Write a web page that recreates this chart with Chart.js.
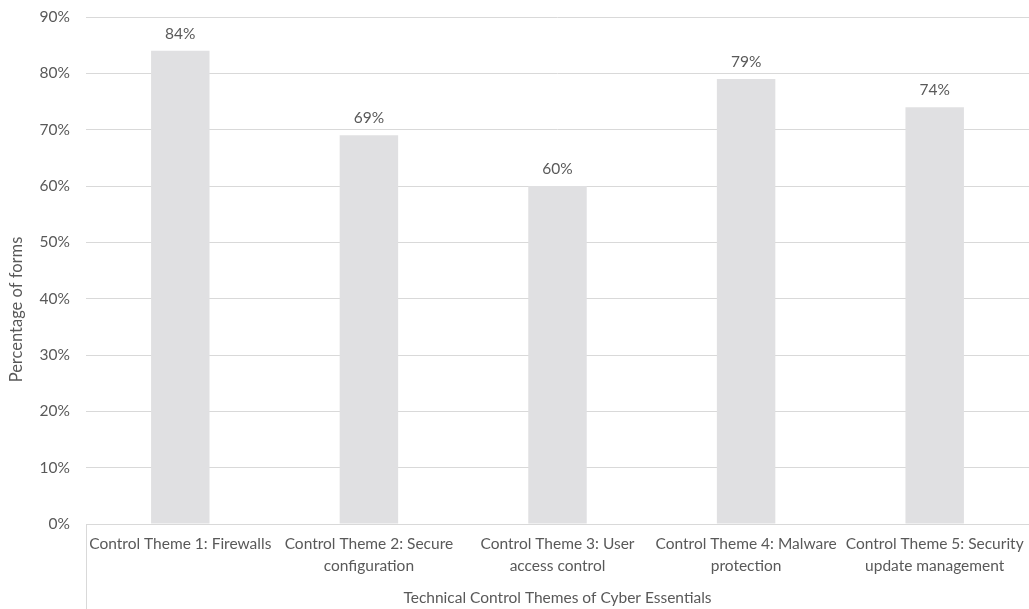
<!DOCTYPE html>
<html>
<head>
<meta charset="utf-8">
<script src="https://cdn.jsdelivr.net/npm/chart.js@4/dist/chart.umd.min.js"></script>
<style>
  html, body { margin: 0; padding: 0; background: #ffffff; }
  #wrap { width: 1029px; height: 609px; }
</style>
</head>
<body>
<div id="wrap"><canvas id="c" width="1029" height="609"></canvas></div>
<script>
const categories = [
  ["Control Theme 1: Firewalls"],
  ["Control Theme 2: Secure", "configuration"],
  ["Control Theme 3: User", "access control"],
  ["Control Theme 4: Malware", "protection"],
  ["Control Theme 5: Security", "update management"]
];
const percentages = [84, 69, 60, 79, 74];
const yTicks = [0, 10, 20, 30, 40, 50, 60, 70, 80, 90];
const xTitle = "Technical Control Themes of Cyber Essentials";
const yTitle = "Percentage of forms";

const FONT = "Lato, 'Open Sans', sans-serif";
const FS = 15.5;
const TEXT = "#595959";
const GRID = "#d9d9d9";

const valueLabels = {
  id: "valueLabels",
  afterDatasetsDraw(chart) {
    const ctx = chart.ctx;
    const meta = chart.getDatasetMeta(0);
    ctx.save();
    ctx.font = FS + "px " + FONT;
    ctx.fillStyle = TEXT;
    ctx.textAlign = "center";
    ctx.textBaseline = "middle";
    meta.data.forEach((el, i) => {
      ctx.fillText(percentages[i] + "%", el.x, el.y - 17);
    });
    // vertical axis title, centred on the whole figure height as in the original
    ctx.translate(17, chart.height / 2 + 5);
    ctx.rotate(-Math.PI / 2);
    ctx.font = "16.5px " + FONT;
    ctx.fillText(yTitle, 0, 0);
    ctx.restore();
  }
};

Chart.defaults.font.family = FONT;
Chart.defaults.font.size = FS;
Chart.defaults.color = TEXT;

new Chart(document.getElementById("c"), {
  type: "bar",
  data: {
    labels: categories,
    datasets: [{
      data: percentages,
      backgroundColor: "#e0e0e2",
      borderWidth: 0,
      barPercentage: 0.62,
      categoryPercentage: 0.5
    }]
  },
  options: {
    responsive: false,
    animation: false,
    layout: { padding: { top: 17, right: 0, left: 0, bottom: 0 } },
    plugins: {
      legend: { display: false },
      tooltip: { enabled: false }
    },
    scales: {
      x: {
        grid: {
          display: true,
          drawOnChartArea: false,
          offset: true,
          tickLength: 86,
          color: (c) => c.index === 0 ? GRID : "rgba(0,0,0,0)"
        },
        border: { display: true, color: GRID, width: 1 },
        ticks: { color: TEXT, font: { size: FS, lineHeight: 1.42 }, padding: -77, maxRotation: 0, autoSkip: false },
        title: { display: true, text: xTitle, color: TEXT, font: { size: FS }, padding: { top: 4, bottom: 2 } },
        afterFit: (s) => { s.height = 85; s.paddingLeft = 0; s.paddingRight = 0; }
      },
      y: {
        min: 0,
        max: 90,
        afterBuildTicks: (s) => { s.ticks = yTicks.map(v => ({ value: v })); },
        grid: { color: GRID, drawTicks: false, lineWidth: 1 },
        border: { display: false },
        ticks: { color: TEXT, font: { size: FS }, padding: 16, callback: (v) => v + "%" },
        title: { display: false },
        afterFit: (s) => { s.width = 86; s.paddingTop = 0; s.paddingBottom = 0; }
      }
    }
  },
  plugins: [valueLabels]
});
</script>
</body>
</html>
